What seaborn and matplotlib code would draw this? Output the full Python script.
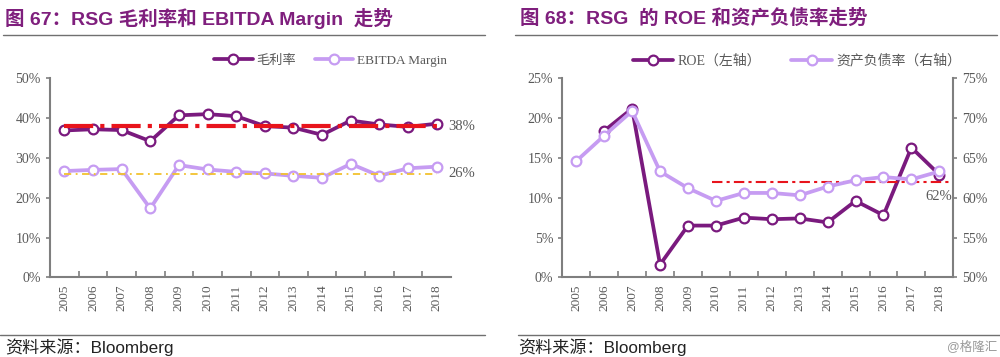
import matplotlib
matplotlib.use('Agg')
import matplotlib.pyplot as plt
from matplotlib.lines import Line2D
import numpy as np
import pandas as pd
import seaborn as sns

# data (percent)
years = list(range(2005, 2019))
gross_margin = [36.9, 37.2, 37.0, 34.2, 40.7, 41.0, 40.5, 38.0, 37.6, 35.8, 39.4, 38.4, 37.8, 38.6]
ebitda_margin = [26.7, 27.0, 27.2, 17.3, 28.2, 27.1, 26.5, 26.1, 25.5, 25.0, 28.5, 25.5, 27.4, 27.8]
roe = [np.nan, 18.4, 21.2, 1.6, 6.5, 6.5, 7.5, 7.3, 7.4, 6.9, 9.6, 7.8, 16.3, 12.9]
debt_ratio = [64.6, 67.8, 70.9, 63.3, 61.2, 59.6, 60.6, 60.6, 60.3, 61.4, 62.2, 62.6, 62.3, 63.3]
gm_avg = 38
ebitda_avg = 26
debt_avg = 62

DARK = '#7a1a7e'
LIGHT = '#c69cf2'
GREY = '#7f7f7f'
TXT = '#595959'
TITLE = '#7f1f7d'

sns.set_theme(style='white')
plt.rcParams['font.family'] = ['Liberation Serif', 'Noto Sans CJK SC', 'DejaVu Sans']
plt.rcParams['axes.unicode_minus'] = False

df = pd.DataFrame({'year': years, 'gm': gross_margin, 'ebitda': ebitda_margin,
                   'roe': roe, 'debt': debt_ratio})

line_kws = dict(marker='o', markersize=7, markerfacecolor='white', markeredgewidth=1.6, linewidth=2.7)

fig = plt.figure(figsize=(10, 3.57), dpi=100)
ax1 = fig.add_axes([0.050, 0.2232, 0.401, 0.5574])
ax2 = fig.add_axes([0.5623, 0.2232, 0.391, 0.5574])


def style_axis(ax, right=False):
    ax.set_xlim(years[0] - 0.5, years[-1] + 0.5)
    ax.set_xticks(years)
    ax.set_xticklabels([str(y) for y in years], rotation=90, fontsize=9.5, color=TXT)
    ax.set_xticks([y + 0.5 for y in years[:-1]], minor=True)
    ax.tick_params(axis='x', which='major', length=0, pad=5)
    ax.tick_params(axis='x', which='minor', direction='in', length=4, width=1.2, color=GREY, bottom=True)
    ax.tick_params(axis='y', direction='out', length=3, width=1.2, color=GREY, labelsize=10, labelcolor=TXT,
                   left=not right, right=right)
    for s in ax.spines.values():
        s.set_visible(False)
    ax.spines['bottom'].set_visible(True)
    ax.spines['bottom'].set_color(GREY)
    ax.spines['bottom'].set_linewidth(1.5)
    side = 'right' if right else 'left'
    ax.spines[side].set_visible(True)
    ax.spines[side].set_color(GREY)
    ax.spines[side].set_linewidth(1.5)
    ax.set_xlabel('')
    ax.set_ylabel('')
    ax.grid(False)


def pct(ax, ticks):
    ax.set_yticks(ticks)
    ax.set_yticklabels(['{}%'.format(t) for t in ticks])


# ---- left chart: gross margin and EBITDA margin
sns.lineplot(data=df, x='year', y='gm', ax=ax1, color=DARK, markeredgecolor=DARK, **line_kws)
sns.lineplot(data=df, x='year', y='ebitda', ax=ax1, color=LIGHT, markeredgecolor=LIGHT, **line_kws)
ax1.plot([years[0], years[-1]], [gm_avg, gm_avg], color='#e8141c', lw=3, dashes=(7, 1.7, 1, 1.7), zorder=3)
ax1.plot([years[0], years[-1]], [ebitda_avg, ebitda_avg], color='#f2c12e', lw=1.3, dashes=(4, 2.5, 1, 2.5), zorder=3)
ax1.set_ylim(0, 50)
style_axis(ax1)
pct(ax1, [0, 10, 20, 30, 40, 50])
ax1.text(years[-1] + 0.4, gm_avg, '{}%'.format(gm_avg), ha='left', va='center', fontsize=10.5, color=TXT)
ax1.text(years[-1] + 0.4, ebitda_avg, '{}%'.format(ebitda_avg), ha='left', va='center', fontsize=10.5, color=TXT)

h1 = [Line2D([], [], color=DARK, markeredgecolor=DARK, **line_kws),
      Line2D([], [], color=LIGHT, markeredgecolor=LIGHT, **line_kws)]
ax1.legend(h1, ['毛利率', 'EBITDA Margin'], loc='center', bbox_to_anchor=(0.70, 1.088), ncol=2,
           frameon=False, fontsize=9.5, handlelength=2.9, handletextpad=0.3, columnspacing=1.4,
           labelcolor=TXT)

# ---- right chart: ROE (left axis) and debt ratio (right axis)
ax2r = ax2.twinx()
sns.lineplot(data=df, x='year', y='roe', ax=ax2, color=DARK, markeredgecolor=DARK, zorder=4, **line_kws)
sns.lineplot(data=df, x='year', y='debt', ax=ax2r, color=LIGHT, markeredgecolor=LIGHT, zorder=3, **line_kws)
ax2r.plot([2009.85, years[-1] + 0.5], [debt_avg, debt_avg], color='#e8141c', lw=1.5,
          dashes=(5, 2, 1.5, 2), zorder=2)
ax2.set_ylim(0, 25)
ax2r.set_ylim(50, 75)
style_axis(ax2)
style_axis(ax2r, right=True)
ax2r.spines['bottom'].set_visible(False)
pct(ax2, [0, 5, 10, 15, 20, 25])
pct(ax2r, [50, 55, 60, 65, 70, 75])
ax2r.text(years[-1] + 0.45, 60.1, '{}%'.format(debt_avg), ha='right', va='center', fontsize=10.5, color=TXT)

h2 = [Line2D([], [], color=DARK, markeredgecolor=DARK, **line_kws),
      Line2D([], [], color=LIGHT, markeredgecolor=LIGHT, **line_kws)]
ax2r.legend(h2, ['ROE（左轴）', '资产负债率（右轴）'], loc='center', bbox_to_anchor=(0.60, 1.088), ncol=2,
            frameon=False, fontsize=10, handlelength=2.9, handletextpad=0.3, columnspacing=2.2,
            labelcolor=TXT)

# ---- titles, rules and sources
title_font = ['Liberation Sans', 'Noto Sans CJK SC', 'DejaVu Sans']
fig.text(0.005, 0.948, '图 67：RSG 毛利率和 EBITDA Margin  走势', fontsize=14, fontweight='bold',
         color=TITLE, family=title_font, va='center')
fig.text(0.52, 0.948, '图 68：RSG  的 ROE 和资产负债率走势', fontsize=14, fontweight='bold',
         color=TITLE, family=title_font, va='center')
for x0, x1, y in [(0.003, 0.485, 0.902), (0.515, 0.997, 0.902), (0.0, 0.485, 0.062), (0.518, 1.0, 0.062)]:
    fig.add_artist(Line2D([x0, x1], [y, y], transform=fig.transFigure, color='#707070', lw=1.0))
fig.text(0.005, 0.027, '资料来源：Bloomberg', fontsize=12.3, color='#222222', family=title_font, va='center')
fig.text(0.518, 0.027, '资料来源：Bloomberg', fontsize=12.3, color='#222222', family=title_font, va='center')
fig.text(0.997, 0.03, '@格隆汇', fontsize=9, color='#999999', family=title_font, va='center', ha='right')

fig.savefig('out.png', dpi=100, facecolor='white')
